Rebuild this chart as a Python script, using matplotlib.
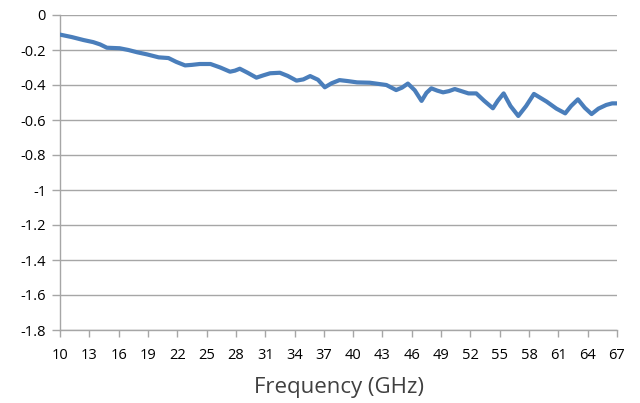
import numpy as np
import matplotlib.pyplot as plt
from matplotlib.ticker import FuncFormatter

# values
freq = [10, 11.2, 12.4, 13.4, 14.1, 14.8, 16.1, 17.0, 17.9, 18.9, 20.1, 21.1, 21.9,
        22.8, 23.5, 24.3, 25.4, 26.4, 27.4, 27.9, 28.4, 29.2, 30.1, 30.8, 31.5,
        32.5, 33.3, 34.2, 34.9, 35.6, 36.4, 37.1, 37.8, 38.6, 39.5, 40.4, 41.7,
        43.4, 44.4, 45.0, 45.6, 46.3, 47.0, 47.5, 48.0, 48.6, 49.2, 49.8, 50.4,
        51.8, 52.6, 53.4, 54.3, 54.8, 55.4, 56.1, 56.9, 57.7, 58.5, 59.8, 60.8,
        61.7, 62.3, 63.0, 63.7, 64.4, 65.1, 65.9, 66.5, 67.0]
loss = [-0.112, -0.126, -0.143, -0.155, -0.168, -0.187, -0.19, -0.2, -0.213, -0.225,
        -0.242, -0.246, -0.268, -0.288, -0.285, -0.28, -0.28, -0.30, -0.324, -0.318,
        -0.307, -0.33, -0.358, -0.345, -0.333, -0.33, -0.348, -0.375, -0.368, -0.349,
        -0.37, -0.413, -0.39, -0.372, -0.378, -0.385, -0.387, -0.40, -0.429, -0.415,
        -0.392, -0.43, -0.491, -0.445, -0.419, -0.432, -0.442, -0.435, -0.423,
        -0.448, -0.448, -0.49, -0.533, -0.49, -0.448, -0.52, -0.577, -0.52, -0.451,
        -0.495, -0.535, -0.562, -0.52, -0.482, -0.53, -0.566, -0.535, -0.514,
        -0.505, -0.505]
xticks = list(range(10, 68, 3))
yticks = [0, -0.2, -0.4, -0.6, -0.8, -1, -1.2, -1.4, -1.6, -1.8]

plt.rcParams['font.family'] = ['Open Sans', 'DejaVu Sans']

fig = plt.figure(figsize=(6.4, 4.03), dpi=100)
ax = fig.add_axes([60 / 640, 73 / 403, 557 / 640, 315 / 403])

grid_c = '#a6a6a6'
for y in yticks:
    ax.axhline(y, color=grid_c, lw=1, zorder=1)

ax.plot(freq, loss, color='#4a7ebb', lw=3, solid_capstyle='round',
        solid_joinstyle='round', zorder=3)

ax.set_xlim(10, 67)
ax.set_ylim(-1.8, 0)
ax.set_xticks(xticks)
ax.set_yticks(yticks)
ax.yaxis.set_major_formatter(FuncFormatter(lambda v, p: ('%g' % v).replace('\u2212', '-')))

for s in ['top', 'right']:
    ax.spines[s].set_visible(False)
for s in ['left', 'bottom']:
    ax.spines[s].set_color(grid_c)
    ax.spines[s].set_linewidth(1)

ax.tick_params(axis='x', colors=grid_c, length=5, width=1, labelcolor='black',
               labelsize=10.5, pad=8)
ax.tick_params(axis='y', colors=grid_c, length=6, width=1, labelcolor='black',
               labelsize=10.5, pad=4)
ax.set_xlabel('Frequency (GHz)', fontsize=16, color='#404040', labelpad=10)

fig.savefig('out.png', dpi=100)
